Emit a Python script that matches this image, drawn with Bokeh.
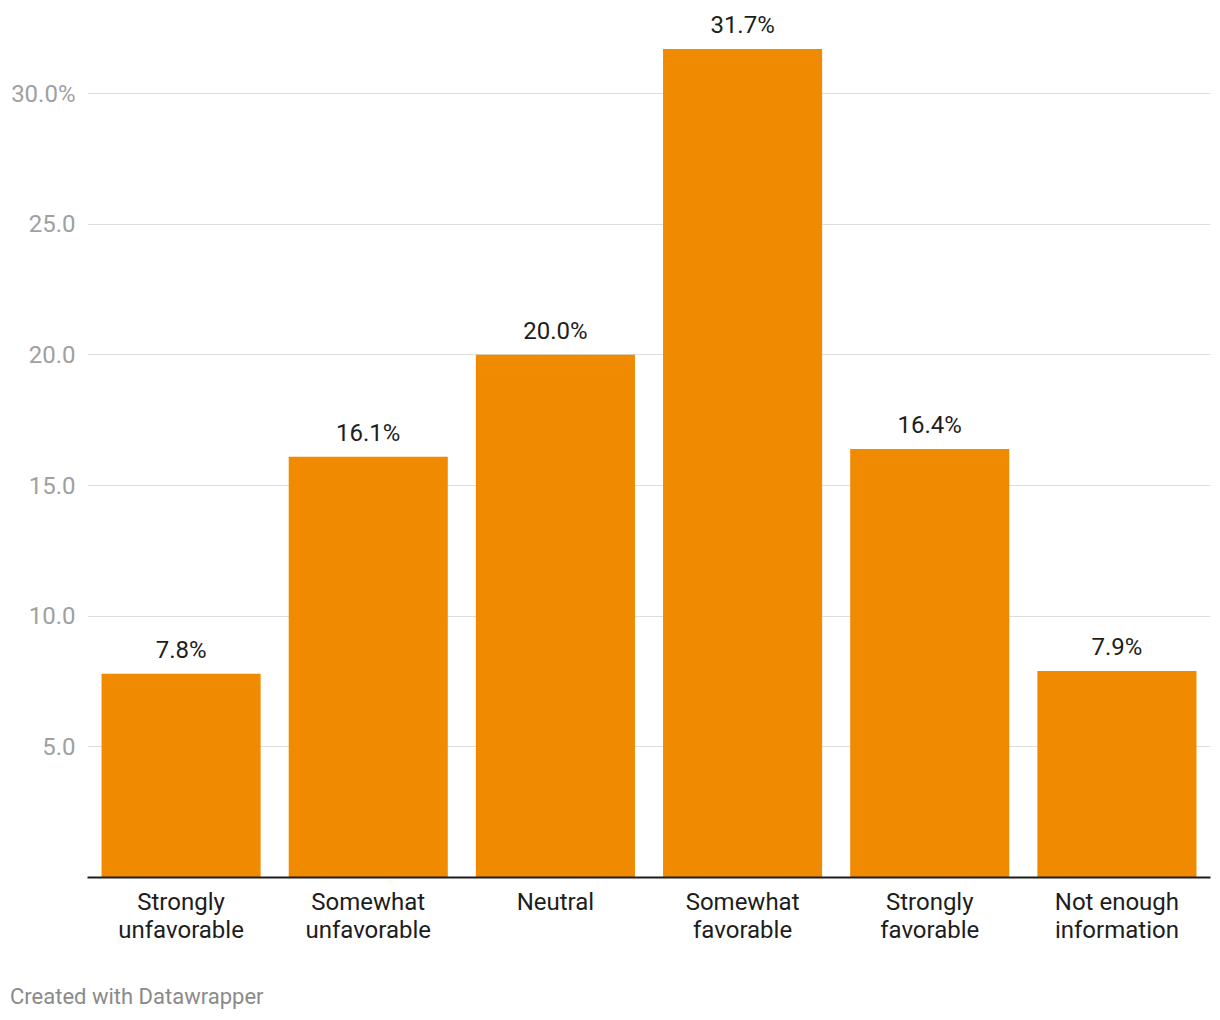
from bokeh.plotting import figure
from bokeh.models import ColumnDataSource, Range1d, FixedTicker, Div
from bokeh.layouts import column
from bokeh.core.properties import value
from bokeh.embed import file_html
from bokeh.resources import INLINE

categories = ["Strongly\nunfavorable", "Somewhat\nunfavorable", "Neutral",
              "Somewhat\nfavorable", "Strongly\nfavorable", "Not enough\ninformation"]
shares = [7.8, 16.1, 20.0, 31.7, 16.4, 7.9]
value_labels = ["7.8%", "16.1%", "20.0%", "31.7%", "16.4%", "7.9%"]
y_ticks = [5, 10, 15, 20, 25, 30]
y_tick_labels = {5: "5.0", 10: "10.0", 15: "15.0", 20: "20.0", 25: "25.0", 30: "30.0%"}
footer_text = "Created with Datawrapper"

FONT = "Roboto"
src = ColumnDataSource(dict(cat=categories, v=shares, lab=value_labels))

p = figure(width=1215, height=950, x_range=categories, y_range=Range1d(0, 33.56),
           output_backend="svg", toolbar_location=None,
           min_border_left=87, min_border_right=5, min_border_top=0, min_border_bottom=73)
p.outline_line_color = None
p.background_fill_color = "white"

p.vbar(x="cat", top="v", width=0.85, source=src, color="#F08A00", line_color=None)
p.text(x="cat", y="v", text="lab", source=src, text_align="center",
       text_baseline="alphabetic", y_offset=-24, text_font=value(FONT),
       text_font_size="24px", text_color="#1d1d1d")

p.xgrid.grid_line_color = None
p.ygrid.grid_line_color = "#dedede"
p.ygrid.grid_line_width = 1
p.ygrid.ticker = FixedTicker(ticks=y_ticks)

yax = p.yaxis[0]
yax.ticker = FixedTicker(ticks=y_ticks)
yax.major_label_overrides = y_tick_labels
yax.axis_line_color = None
yax.major_tick_line_color = None
yax.minor_tick_line_color = None
yax.major_label_text_font = FONT
yax.major_label_text_font_size = "24px"
yax.major_label_text_color = "#a0a0a0"
yax.major_label_standoff = 6

xax = p.xaxis[0]
xax.axis_line_color = "#1d1d1d"
xax.axis_line_width = 2
xax.major_tick_line_color = None
xax.minor_tick_line_color = None
xax.major_label_text_font = FONT
xax.major_label_text_font_size = "24px"
xax.major_label_text_color = "#1d1d1d"
xax.major_label_standoff = 4
xax.major_label_text_line_height = 1.0

footer = Div(text=footer_text, width=1215, height=60, margin=(0, 0, 0, 0),
             styles={"font-family": "Roboto", "font-size": "22px", "color": "#8a8a8a",
                     "padding-left": "10px", "padding-top": "34px", "line-height": "26px",
                     "box-sizing": "border-box"})

layout = column(p, footer, spacing=0)
open("out.html", "w").write(file_html(layout, INLINE))
